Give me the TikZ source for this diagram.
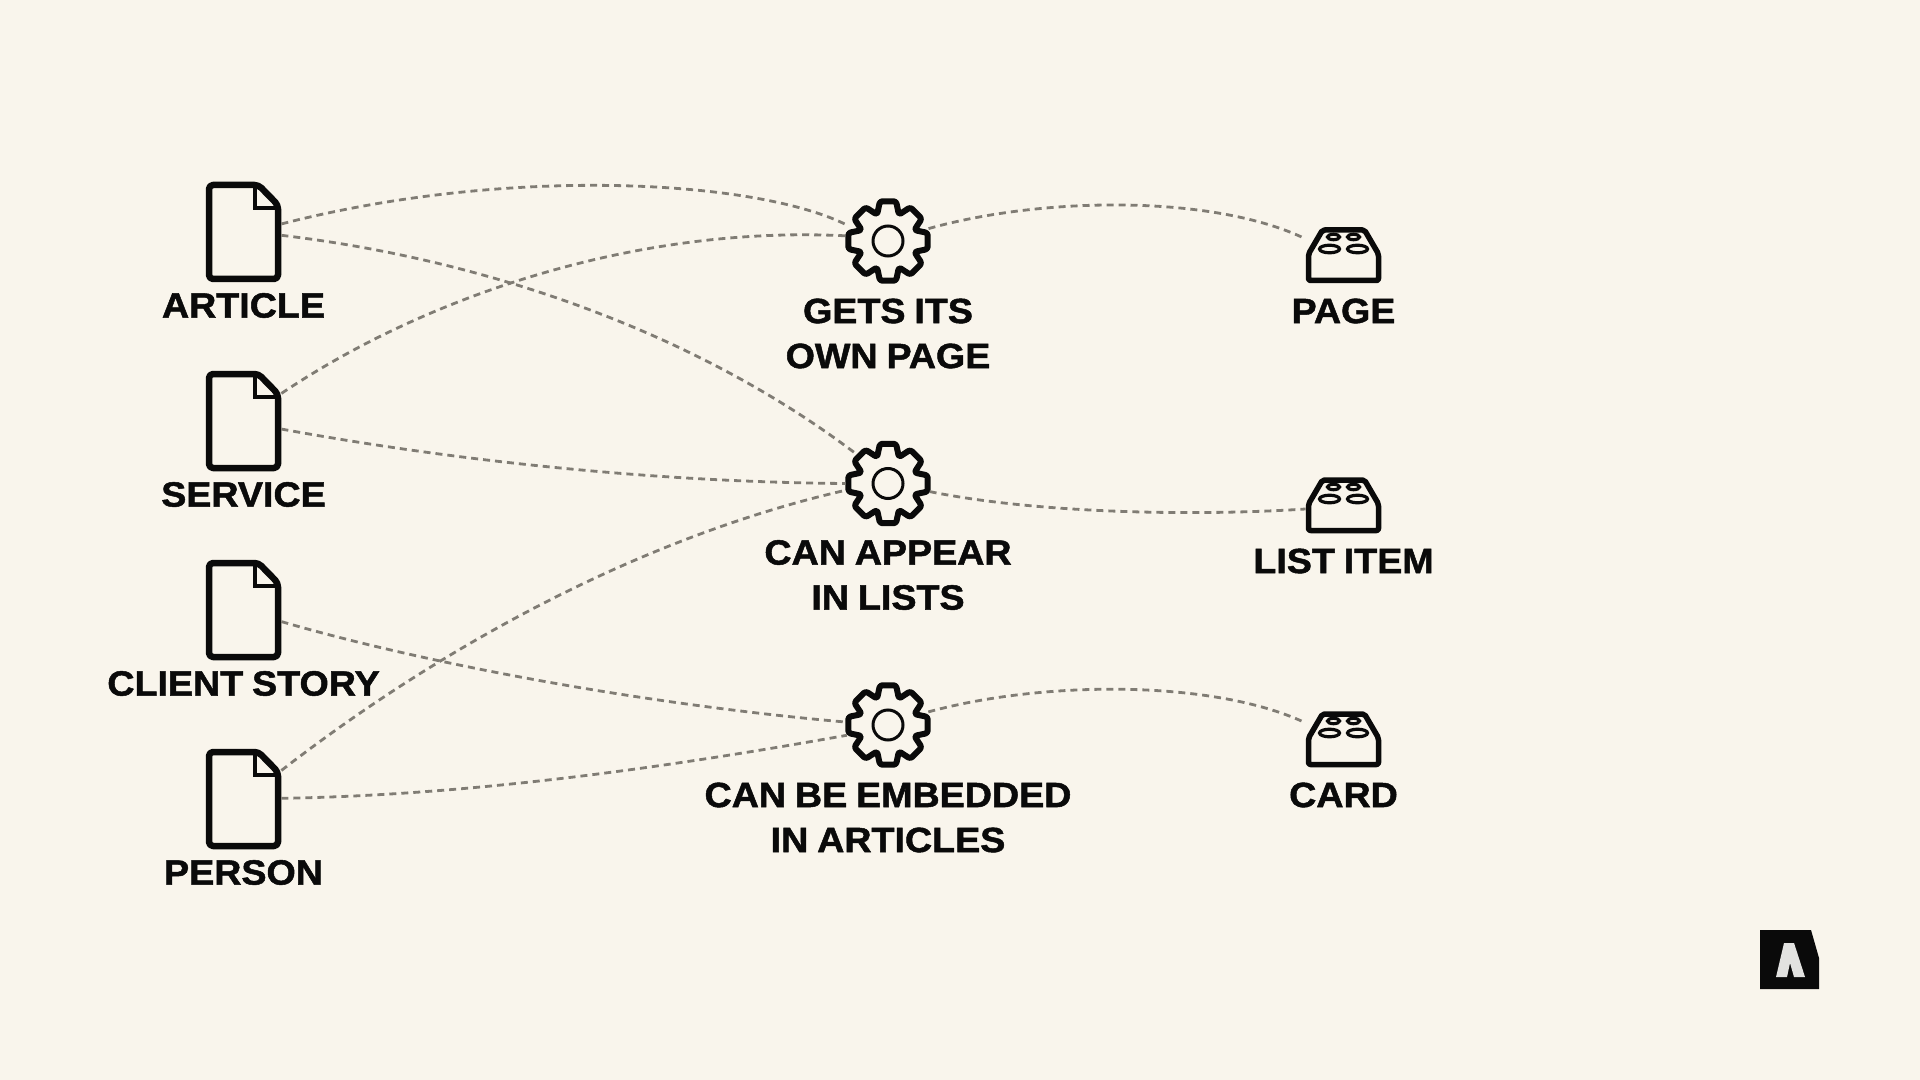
\documentclass[tikz,border=0pt]{standalone}
\usepackage{fontspec}
\setmainfont[BoldFeatures={FakeBold=1.4,FakeStretch=1.075,WordSpace=0.85}]{Liberation Sans}
\newlength{\du}
\setlength{\du}{0.5pt}
\definecolor{papercolor}{HTML}{F9F5EC}
\definecolor{inkcolor}{HTML}{0A0A0A}
\definecolor{threadcolor}{HTML}{807C74}
\definecolor{markcolor}{HTML}{E2E2E0}
\tikzset{
  docbox/.style={rectangle,minimum width=75\du,minimum height=100\du,inner sep=0pt},
  gearbox/.style={circle,minimum size=84\du,inner sep=0pt},
  blockbox/.style={rectangle,minimum width=75\du,minimum height=56\du,inner sep=0pt},
  caption/.style={text=inkcolor,font=\bfseries\fontsize{17.5pt}{22.5pt}\selectfont,align=center,inner sep=0pt},
  thread/.style={draw=threadcolor,line width=2.8\du,dash pattern=on 7\du off 5\du},
  docicon/.pic={
    \draw[draw=inkcolor,line width=6.5\du,line join=round,rounded corners=4\du]
      (-34.5,-47) -- (15,-47) -- (34.5,-27) -- (34.5,47) -- (-34.5,47) -- cycle;
    \draw[draw=inkcolor,line width=4\du] (11.5,-47) -- (11.5,-24) -- (34.5,-24);
  },
  gearicon/.pic={
    \draw[draw=inkcolor,line width=6\du,line join=round,rounded corners=2.5\du]
      (-11.5:40.5) -- (11.5:40.5) -- (22.5:28.5) --
      (33.5:40.5) -- (56.5:40.5) -- (67.5:28.5) --
      (78.5:40.5) -- (101.5:40.5) -- (112.5:28.5) --
      (123.5:40.5) -- (146.5:40.5) -- (157.5:28.5) --
      (168.5:40.5) -- (191.5:40.5) -- (202.5:28.5) --
      (213.5:40.5) -- (236.5:40.5) -- (247.5:28.5) --
      (258.5:40.5) -- (281.5:40.5) -- (292.5:28.5) --
      (303.5:40.5) -- (326.5:40.5) -- (337.5:28.5) -- cycle;
    \draw[draw=inkcolor,line width=3\du] (0,0) circle (15);
  },
  blockicon/.pic={
    \draw[draw=inkcolor,line width=5.5\du,line join=round,rounded corners=2\du]
      (-35,25.5) -- (35,25.5) -- (35,-1) -- (21,-25) -- (-21,-25) -- (-35,-1) -- cycle;
    \draw[draw=inkcolor,line width=3.2\du] (-10,-18) ellipse (6 and 2.7);
    \draw[draw=inkcolor,line width=3.2\du] (10,-18) ellipse (6 and 2.7);
    \draw[draw=inkcolor,line width=3.2\du] (-14,-6) ellipse (10 and 3.8);
    \draw[draw=inkcolor,line width=3.2\du] (14,-6) ellipse (10 and 3.8);
  },
}

\begin{document}
\begin{tikzpicture}[x=\du,y=-\du]
\fill[papercolor] (0,0) rectangle (1920,1080);
\useasboundingbox (0,0) rectangle (1920,1080);

% left column
\node[docbox] (article) at (243.5,232) {};
\node[docbox] (service) at (243.5,421) {};
\node[docbox] (story) at (243.5,610) {};
\node[docbox] (person) at (243.5,799) {};
\pic at (article) {docicon};
\pic at (service) {docicon};
\pic at (story) {docicon};
\pic at (person) {docicon};
\node[caption] (articletext) at (243.5,305.5) {ARTICLE};
\node[caption] (servicetext) at (243.5,494.5) {SERVICE};
\node[caption] (storytext) at (243.5,683.5) {CLIENT STORY};
\node[caption] (persontext) at (243.5,872.5) {PERSON};

% middle column
\node[gearbox] (ownpage) at (888,241) {};
\node[gearbox] (lists) at (888,483.5) {};
\node[gearbox] (embedded) at (888,725) {};
\pic at (ownpage) {gearicon};
\pic at (lists) {gearicon};
\pic at (embedded) {gearicon};
\node[caption] (ownpagetext) at (888,333.5) {GETS ITS\\OWN PAGE};
\node[caption] (liststext) at (888,575) {CAN APPEAR\\IN LISTS};
\node[caption] (embeddedtext) at (888,817.5) {CAN BE EMBEDDED\\IN ARTICLES};

% right column
\node[blockbox] (page) at (1343.5,255) {};
\node[blockbox] (item) at (1343.5,505) {};
\node[blockbox] (card) at (1343.5,739) {};
\pic at (page) {blockicon};
\pic at (item) {blockicon};
\pic at (card) {blockicon};
\node[caption] (pagetext) at (1343.5,311) {PAGE};
\node[caption] (itemtext) at (1343.5,561) {LIST ITEM};
\node[caption] (cardtext) at (1343.5,795) {CARD};

% threads
\draw[thread] (article.12) .. controls (510,165) and (760,180) .. (ownpage.159);
\draw[thread] (article.-5) .. controls (490,260) and (700,335) .. (lists.137);
\draw[thread] (service.36) .. controls (420,300) and (630,225) .. (ownpage.173);
\draw[thread] (service.-12) .. controls (450,460) and (650,482) .. (lists.180);
\draw[thread] (story.-17) .. controls (430,665) and (650,705) .. (embedded.176);
\draw[thread] (person.37) .. controls (450,640) and (650,535) .. (lists.189);
\draw[thread] (person.1) .. controls (480,795) and (680,765) .. (embedded.194);
\draw[thread] (ownpage.17) .. controls (1045,196) and (1215,195) .. (page.157);
\draw[thread] (lists.-11) .. controls (1040,514) and (1200,516) .. (item.186);
\draw[thread] (embedded.18) .. controls (1045,680) and (1215,680) .. (card.157);

% corner mark
\fill[inkcolor] (1760,930) -- (1811,930) -- (1819,958) -- (1819,989) -- (1760,989) -- cycle;
\fill[markcolor] (1784,943) -- (1794,943) -- (1805,977) -- (1794,977) -- (1790,963) -- (1787,977) -- (1776,977) -- cycle;
\end{tikzpicture}
\end{document}
